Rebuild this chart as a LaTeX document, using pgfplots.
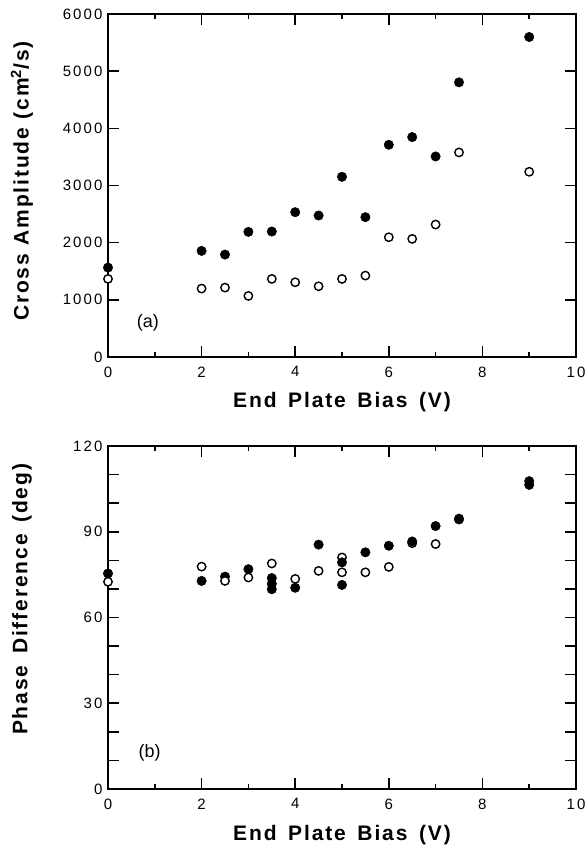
\documentclass[border=0pt]{standalone}
\usepackage{fontspec}
\setmainfont{Liberation Sans}
\newfontfamily\tickfont[LetterSpace=14]{Liberation Sans}
\newfontfamily\labfont[LetterSpace=9]{Liberation Sans}
\usepackage{pgfplots}
\pgfplotsset{compat=1.18}

\pgfplotsset{
  panel/.style={
    width=468pt, height=343pt, scale only axis,
    xmin=0, xmax=10,
    xtick={0,2,...,10}, xticklabels={0,2,4,6,8,10},
    minor x tick num=1,
    major tick length=11pt, minor tick length=5pt,
    tick align=inside, xtick pos=both, ytick pos=both,
    axis line style={line width=2.2pt},
    every tick/.style={black, line width=1.6pt},
    tick label style={font=\tickfont\fontsize{15}{17}\selectfont},
    yticklabel style={xshift=-2pt},
    xticklabel style={yshift=-6pt},
    label style={font=\labfont\bfseries\fontsize{21}{23}\selectfont},
    xlabel={End\hspace{0.55em}Plate\hspace{0.55em}Bias\hspace{0.55em}(V)},
    xlabel style={at={(axis description cs:0.5,0)}, anchor=base, yshift=-51pt},
    clip=false,
  },
  filled/.style={only marks, mark=*, mark size=4.7pt,
    mark options={fill=black, draw=black, line width=0.5pt}},
  hollow/.style={only marks, mark=*, mark size=4.2pt,
    mark options={fill=white, draw=black, line width=1.4pt}},
}

\begin{document}
\begin{tikzpicture}
\path[use as bounding box] (-108pt,-61pt) rectangle (479pt,789pt);

% (a) cross amplitude
\begin{axis}[panel, at={(0pt,432pt)}, anchor=south west,
  ymin=0, ymax=6000,
  ytick={0,1000,...,6000}, yticklabels={0,1000,2000,3000,4000,5000,6000},
  ylabel={Cross\hspace{0.4em}Amplitude\hspace{0.4em}(cm\textsuperscript{2}/s)},
  ylabel style={at={(axis description cs:-0.184,0.513)}, anchor=center},
]
\addplot[filled] coordinates {(0,1564) (2,1856) (2.5,1792) (3,2189) (3.5,2195)
  (4,2533) (4.5,2475) (5,3152) (5.5,2446) (6,3712) (6.5,3847) (7,3508)
  (7.5,4804) (9,5598)};
\addplot[hollow] coordinates {(0,1366) (2,1197) (2.5,1214) (3,1068) (3.5,1366)
  (4,1307) (4.5,1237) (5,1366) (5.5,1424) (6,2095) (6.5,2066) (7,2317)
  (7.5,3578) (9,3240)};
\node[font=\fontsize{18}{18}\selectfont, anchor=center] at (axis cs:0.85,595) {(a)};
\end{axis}

% (b) phase difference
\begin{axis}[panel, at={(0pt,0pt)}, anchor=south west,
  ymin=0, ymax=120,
  ytick={0,10,...,120}, yticklabels={0,,,30,,,60,,,90,,,120},
  ylabel={Phase\hspace{0.55em}Difference\hspace{0.55em}(deg)},
  ylabel style={at={(axis description cs:-0.184,0.553)}, anchor=center},
]
\addplot[hollow] coordinates {(5,81.0) (6.5,86.0) (7.5,94.6)};
\addplot[filled] coordinates {(0,75.4) (2,72.8) (2.5,74.3) (3,76.9) (3.5,73.8)
  (3.5,71.8) (3.5,69.9) (4,70.4) (4.5,85.5) (5,79.3) (5,71.4) (5.5,82.8)
  (6,85.1) (6.5,86.6) (7,92.0) (7.5,94.3) (9,107.7) (9,106.4)};
\addplot[hollow] coordinates {(0,72.5) (2,77.8) (2.5,72.8) (3,74.0) (3.5,78.9)
  (4,73.5) (4.5,76.3) (5,75.8) (5.5,75.8) (6,77.7) (7,85.7)};
\node[font=\fontsize{18}{18}\selectfont, anchor=center] at (axis cs:0.89,12.7) {(b)};
\end{axis}
\end{tikzpicture}
\end{document}
